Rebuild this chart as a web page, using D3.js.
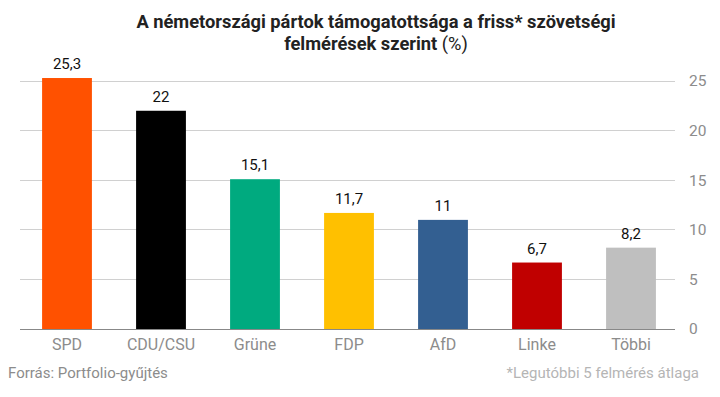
<!DOCTYPE html>
<html><head><meta charset="utf-8">
<script src="https://cdn.jsdelivr.net/npm/d3@7"></script>
<style>body{margin:0;background:#fff;}svg{display:block;font-family:Roboto,sans-serif;}</style>
</head><body>
<script>
const categories = ["SPD","CDU/CSU","Grüne","FDP","AfD","Linke","Többi"];
const values = [25.3,22,15.1,11.7,11,6.7,8.2];
const valueLabels = ["25,3","22","15,1","11,7","11","6,7","8,2"];
const colors = ["#ff5100","#000000","#00aa7f","#ffc000","#335f91","#c00000","#bfbfbf"];
const yTicks = [0,5,10,15,20,25];

const W=720,H=397;
const svg=d3.select("body").append("svg").attr("width",W).attr("height",H);
const x=d3.scaleBand().domain(categories).range([20,678]).paddingInner(0.47).paddingOuter(0.235);
const y=d3.scaleLinear().domain([0,25]).range([329,81]);

// gridlines
svg.append("g").selectAll("line").data(yTicks.filter(d=>d>0)).join("line")
  .attr("x1",20).attr("x2",675).attr("y1",d=>y(d)).attr("y2",d=>y(d))
  .attr("stroke","#d0d0d0").attr("stroke-width",1).attr("shape-rendering","crispEdges");

// right axis labels
const ax=svg.append("g").attr("transform","translate(689,0)")
  .call(d3.axisRight(y).tickValues(yTicks).tickSize(0).tickPadding(0));
ax.select(".domain").remove();
ax.selectAll("text").attr("fill","#8c8c8c").style("font-size","15.5px").style("font-family","Roboto");

// bars
svg.append("g").selectAll("rect").data(categories).join("rect")
  .attr("x",d=>x(d)).attr("width",x.bandwidth())
  .attr("y",(d,i)=>y(values[i])).attr("height",(d,i)=>y(0)-y(values[i]))
  .attr("fill",(d,i)=>colors[i]);

// baseline
svg.append("line").attr("x1",20).attr("x2",675).attr("y1",y(0)+0.5).attr("y2",y(0)+0.5)
  .attr("stroke","#888").attr("stroke-width",1);

// value labels
svg.append("g").selectAll("text").data(categories).join("text")
  .attr("x",d=>x(d)+x.bandwidth()/2).attr("y",(d,i)=>y(values[i])-9)
  .attr("text-anchor","middle").attr("fill","#111").style("font-size","15px")
  .text((d,i)=>valueLabels[i]);

// category labels
const xa=svg.append("g").attr("transform","translate(0,339)")
  .call(d3.axisBottom(x).tickSize(0).tickPadding(0));
xa.select(".domain").remove();
xa.selectAll("text").attr("fill","#8c8c8c").style("font-size","16px").style("font-family","Roboto").attr("dy","0.71em");

// title
const t=svg.append("text").attr("x",376).attr("y",28).attr("text-anchor","middle").attr("fill","#222").style("font-size","18.3px");
t.append("tspan").style("font-weight","bold").text("A németországi pártok támogatottsága a friss* szövetségi");
const t2=svg.append("text").attr("x",376).attr("y",50).attr("text-anchor","middle").attr("fill","#222").style("font-size","18.3px");
t2.append("tspan").style("font-weight","bold").text("felmérések szerint ");
t2.append("tspan").style("font-weight","normal").text("(%)");

// footer
svg.append("text").attr("x",8).attr("y",378).attr("fill","#8c8c8c").style("font-size","15px").text("Forrás: Portfolio-gyűjtés");
svg.append("text").attr("x",699).attr("y",378).attr("text-anchor","end").attr("fill","#b5b5b5").style("font-size","15px").text("*Legutóbbi 5 felmérés átlaga");
</script>
</body></html>
